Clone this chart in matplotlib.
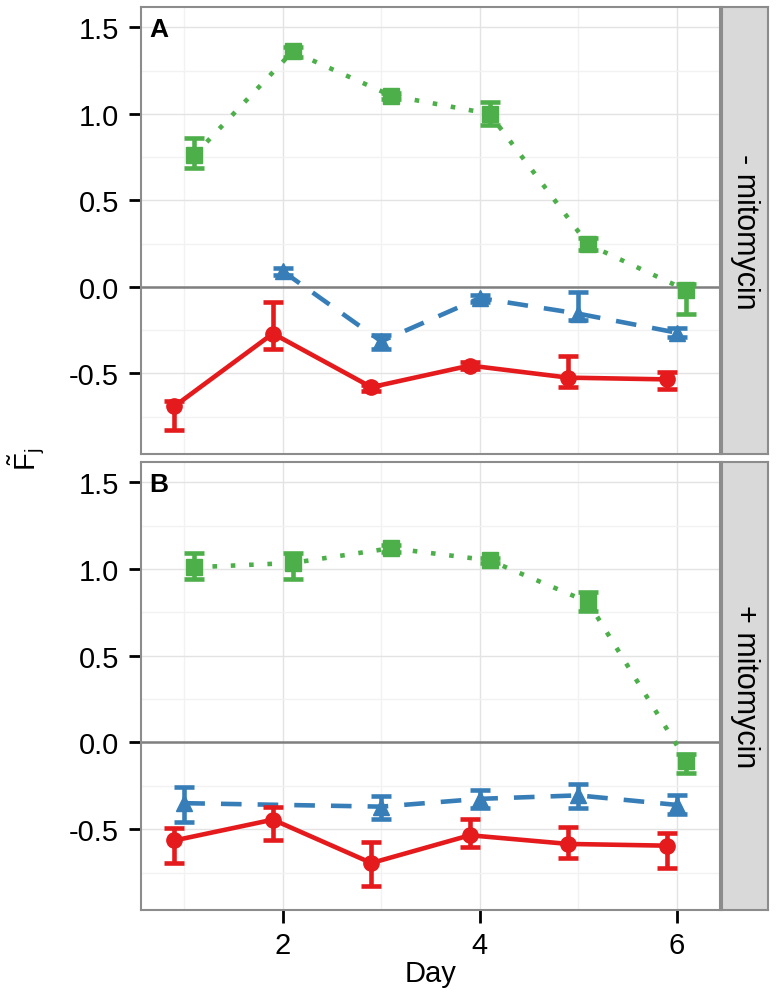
import matplotlib.pyplot as plt
from matplotlib import font_manager
import numpy as np

plt.rcParams['font.family'] = ['Liberation Sans', 'DejaVu Sans']
plt.rcParams['mathtext.fontset'] = 'custom'
plt.rcParams['mathtext.rm'] = 'Liberation Sans'

# panel A (- mitomycin)
a_red_day = [1, 2, 3, 4, 5, 6]
a_red = [-0.69, -0.27, -0.58, -0.455, -0.525, -0.535]
a_red_lo = [-0.83, -0.36, -0.60, -0.475, -0.58, -0.59]
a_red_hi = [-0.66, -0.09, -0.565, -0.435, -0.40, -0.49]

a_blue_day = [2, 3, 4, 5, 6]
a_blue = [0.09, -0.315, -0.065, -0.155, -0.265]
a_blue_lo = [0.07, -0.36, -0.085, -0.19, -0.29]
a_blue_hi = [0.11, -0.28, -0.045, -0.03, -0.24]

a_green_day = [1, 2, 3, 4, 5, 6]
a_green = [0.76, 1.36, 1.105, 1.0, 0.245, -0.02]
a_green_lo = [0.685, 1.33, 1.085, 0.935, 0.21, -0.16]
a_green_hi = [0.86, 1.385, 1.12, 1.07, 0.28, 0.015]

# panel B (+ mitomycin)
b_red_day = [1, 2, 3, 4, 5, 6]
b_red = [-0.565, -0.445, -0.695, -0.535, -0.585, -0.595]
b_red_lo = [-0.695, -0.56, -0.83, -0.60, -0.665, -0.725]
b_red_hi = [-0.495, -0.37, -0.575, -0.44, -0.49, -0.52]

b_blue_day = [1, 3, 4, 5, 6]
b_blue = [-0.35, -0.37, -0.325, -0.305, -0.36]
b_blue_lo = [-0.46, -0.44, -0.375, -0.38, -0.415]
b_blue_hi = [-0.255, -0.31, -0.275, -0.24, -0.30]

b_green_day = [1, 2, 3, 4, 5, 6]
b_green = [1.01, 1.035, 1.12, 1.05, 0.81, -0.105]
b_green_lo = [0.94, 0.94, 1.10, 1.035, 0.76, -0.175]
b_green_hi = [1.095, 1.095, 1.14, 1.065, 0.865, -0.065]

strip_labels = ['- mitomycin', '+ mitomycin']
panel_labels = ['A', 'B']

RED, BLUE, GREEN = '#E41A1C', '#377EB8', '#4DAF4A'

# narrow font for the strip text if it is there
names = {f.name for f in font_manager.fontManager.ttflist}
strip_font = 'Liberation Sans Narrow' if 'Liberation Sans Narrow' in names else 'Liberation Sans'
strip_size = 26 if strip_font == 'Liberation Sans Narrow' else 22


def draw_series(ax, day, y, lo, hi, color, marker, ls, shift, z):
    x = np.array(day) + shift
    y = np.array(y)
    err = [y - np.array(lo), np.array(hi) - y]
    ax.errorbar(x, y, yerr=err, fmt='none', ecolor=color, elinewidth=3.3,
                capsize=7.5, capthick=3.3, zorder=z)
    line, = ax.plot(x, y, color=color, lw=3.3, zorder=z)
    if ls:
        line.set_dashes(ls)
    line.set_dash_capstyle('butt')
    ax.plot(x, y, linestyle='none', marker=marker, color=color, ms=11, zorder=z + 0.5)


fig = plt.figure(figsize=(7.78, 10.03), dpi=100)
ax_a = fig.add_axes([0.1812, 0.5464, 0.7442, 0.4456])
ax_b = fig.add_axes([0.1812, 0.0917, 0.7442, 0.4467])

panels = [
    (ax_a, (a_red_day, a_red, a_red_lo, a_red_hi),
     (a_blue_day, a_blue, a_blue_lo, a_blue_hi),
     (a_green_day, a_green, a_green_lo, a_green_hi)),
    (ax_b, (b_red_day, b_red, b_red_lo, b_red_hi),
     (b_blue_day, b_blue, b_blue_lo, b_blue_hi),
     (b_green_day, b_green, b_green_lo, b_green_hi)),
]

for i, (ax, red, blue, green) in enumerate(panels):
    ax.set_xlim(0.56, 6.44)
    ax.set_ylim(-0.966, 1.617)
    ax.set_xticks([2, 4, 6])
    ax.set_xticks([1, 3, 5], minor=True)
    ax.set_yticks([-0.5, 0.0, 0.5, 1.0, 1.5])
    ax.set_yticks([-0.75, -0.25, 0.25, 0.75, 1.25], minor=True)
    ax.grid(which='major', color='#E3E3E3', lw=1.0, zorder=0)
    ax.grid(which='minor', color='#F2F2F2', lw=1.0, zorder=0)
    ax.set_axisbelow(True)
    ax.axhline(0, color='#7F7F7F', lw=1.8, zorder=1)
    for sp in ax.spines.values():
        sp.set_color('#8C8C8C')
        sp.set_linewidth(1.5)
    ax.tick_params(axis='y', which='major', length=9, width=2.0, color='black',
                   labelsize=21, pad=7)
    ax.tick_params(which='minor', length=0)
    ax.set_yticklabels(['-0.5', '0.0', '0.5', '1.0', '1.5'])

    draw_series(ax, *green, GREEN, 's', (1, 3), 0.1, 3)
    draw_series(ax, *blue, BLUE, '^', (4.5, 3.5), 0.0, 4)
    draw_series(ax, *red, RED, 'o', None, -0.1, 5)

    ax.text(0.031, 0.951, panel_labels[i], transform=ax.transAxes, fontsize=19,
            fontweight='bold', ha='center', va='center')

    # facet strip on the right
    pos = ax.get_position()
    sax = fig.add_axes([0.928, pos.y0, 0.0591, pos.height])
    sax.set_facecolor('#D9D9D9')
    sax.set_xticks([])
    sax.set_yticks([])
    for sp in sax.spines.values():
        sp.set_color('#8C8C8C')
        sp.set_linewidth(1.5)
    sax.text(0.5, 0.5, strip_labels[i], rotation=-90, ha='center', va='center',
             fontsize=strip_size, family=strip_font, transform=sax.transAxes)

ax_a.tick_params(axis='x', which='major', length=0, labelbottom=False)
ax_b.tick_params(axis='x', which='major', length=9, width=2.0, color='black',
                 labelsize=21, pad=6)
ax_b.set_xlabel('Day', fontsize=21, labelpad=0)

fig.text(0.035, 0.5424, r'$\tilde{\mathrm{F}}_{\mathrm{j}}$', rotation=90,
         ha='center', va='center', fontsize=21)

fig.savefig('out.png', dpi=100)
